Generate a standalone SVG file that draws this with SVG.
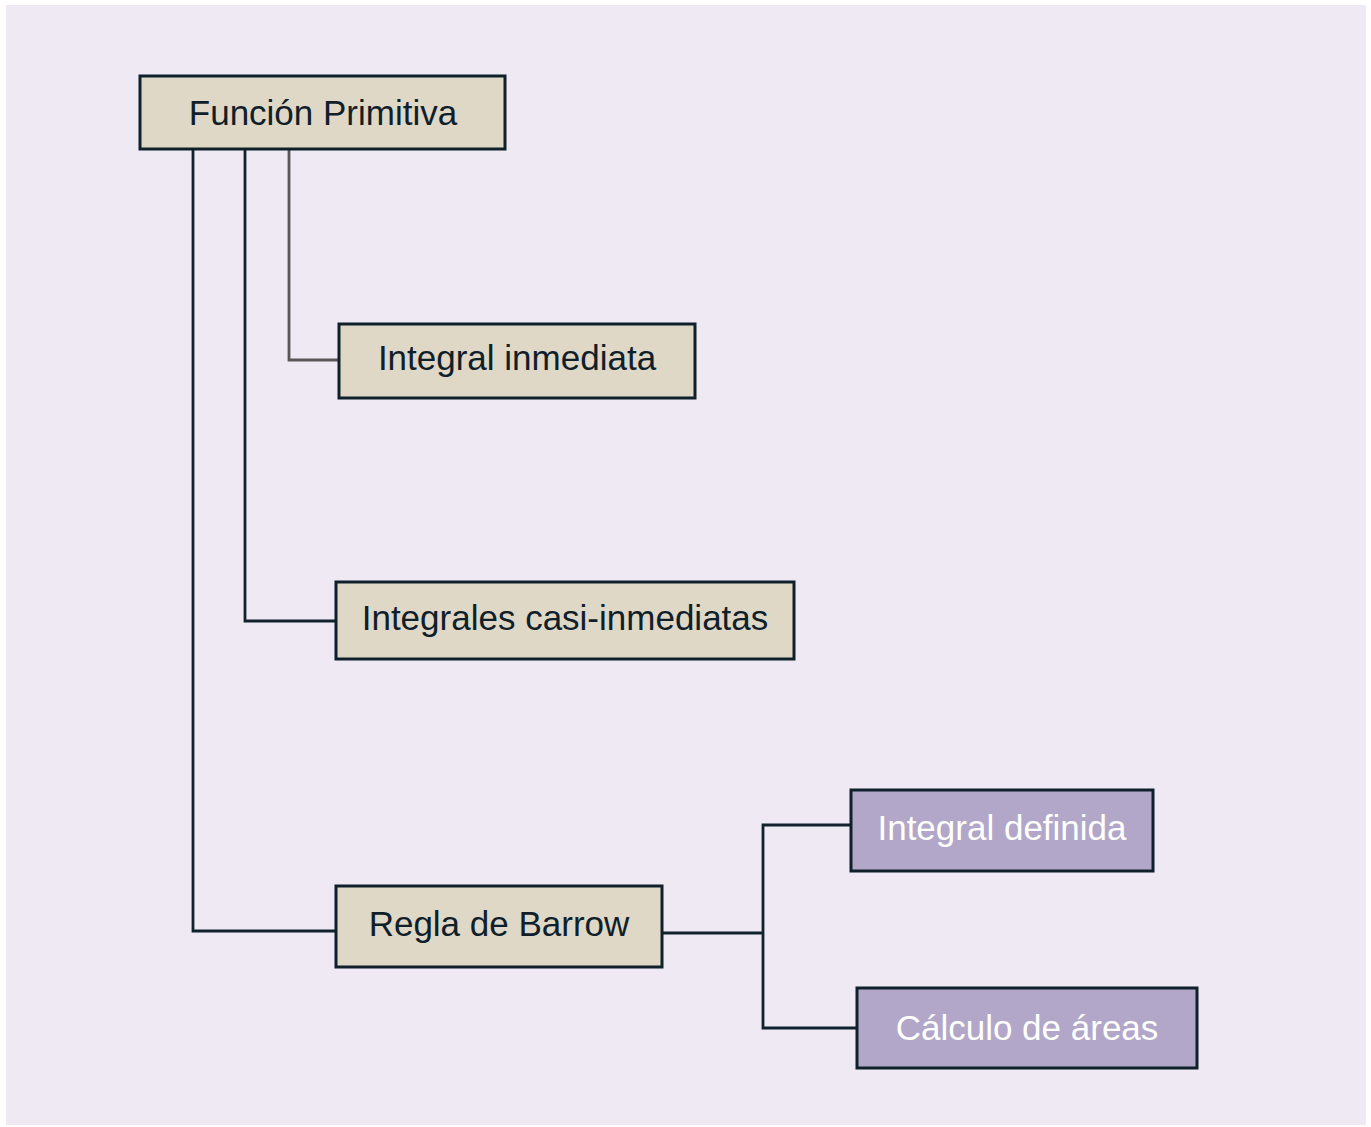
<svg xmlns="http://www.w3.org/2000/svg" width="1371" height="1127" viewBox="0 0 1371 1127">
<style>
.box{stroke:#0f202b;stroke-width:3}
.tan{fill:#dfd8c6}
.lav{fill:#b2a7c8}
.t{font-family:"Liberation Sans",Arial,sans-serif;font-size:35px;text-anchor:middle}
.dark{fill:#0f202b}
.light{fill:#ffffff}
.c{fill:none;stroke:#10222c;stroke-width:2.8}
.cg{fill:none;stroke:#5b5557;stroke-width:2.8}
</style>
<rect x="0" y="0" width="1371" height="1127" fill="#ffffff"/>
<rect x="6" y="5" width="1360" height="1120" fill="#efe9f4"/>
<g id="connectors">
<path class="cg" d="M289 149 V360 H339"/>
<path class="c" d="M245 149 V621 H336"/>
<path class="c" d="M193 149 V931 H336"/>
<path class="c" d="M662 933 H763"/>
<path class="c" d="M851 825 H763 V1028 H857"/>
</g>
<g id="funcion-primitiva">
<rect class="box tan" x="140" y="76" width="365" height="73"/>
<text class="t dark" x="323" y="125">Función Primitiva</text>
</g>
<g id="integral-inmediata">
<rect class="box tan" x="339" y="324" width="356" height="74"/>
<text class="t dark" x="517" y="370">Integral inmediata</text>
</g>
<g id="integrales-casi-inmediatas">
<rect class="box tan" x="336" y="582" width="458" height="77"/>
<text class="t dark" x="565" y="630">Integrales casi-inmediatas</text>
</g>
<g id="regla-de-barrow">
<rect class="box tan" x="336" y="886" width="326" height="81"/>
<text class="t dark" x="499" y="936">Regla de Barrow</text>
</g>
<g id="integral-definida">
<rect class="box lav" x="851" y="790" width="302" height="81"/>
<text class="t light" x="1002" y="840">Integral definida</text>
</g>
<g id="calculo-de-areas">
<rect class="box lav" x="857" y="988" width="340" height="80"/>
<text class="t light" x="1027" y="1040">Cálculo de áreas</text>
</g>
</svg>
